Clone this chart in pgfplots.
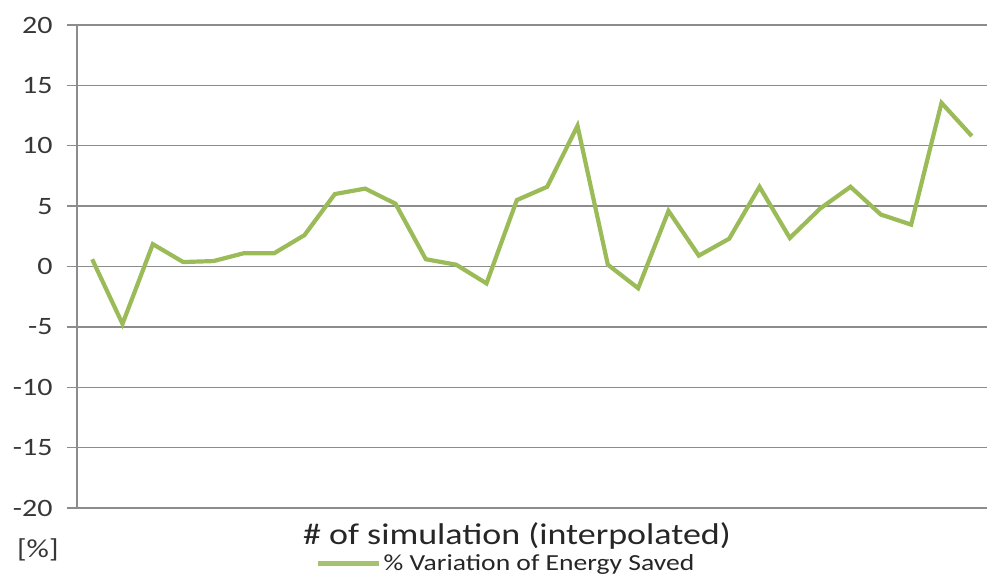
\documentclass[border=0pt]{standalone}
\usepackage{pgfplots}
\pgfplotsset{compat=1.18}
\usepackage{fontspec}
\setmainfont{Carlito}[FakeStretch=1.2]
\definecolor{linegreen}{RGB}{155,187,89}
\definecolor{legendgreen}{RGB}{165,194,110}
\definecolor{gridgray}{RGB}{140,140,140}
\definecolor{textgray}{RGB}{55,55,55}
\begin{document}
\begin{tikzpicture}
\path[use as bounding box] (0,0) rectangle (987bp,575bp);
\begin{axis}[
  at={(77bp,67bp)}, anchor=south west,
  scale only axis, width=910bp, height=483bp,
  xmin=0.5, xmax=30.5, ymin=-20, ymax=20,
  ytick={-20,-15,...,20},
  xtick=\empty,
  ymajorgrids, grid style={gridgray, line width=1.3bp},
  axis x line*=bottom, axis y line*=left,
  x axis line style={draw=none},
  y axis line style={gridgray, line width=1.8bp, -},
  major tick length=10bp,
  ytick style={gridgray, line width=1.3bp},
  tick align=outside,
  yticklabel style={font=\fontsize{25bp}{27bp}\selectfont, text=textgray, xshift=-11bp},
  /pgf/number format/assume math mode=true,
  xlabel={\# of simulation (interpolated)},
  xlabel style={font=\fontsize{30bp}{32bp}\selectfont, text=black!85, inner sep=0pt, at={(axis description cs:0.4835,-0.058)}, anchor=center},
  legend style={at={(axis description cs:0.262,-0.114)}, anchor=west, draw=none, fill=none,
    font=\fontsize{23bp}{25bp}\selectfont, text=black!85, inner sep=0pt},
  legend image code/.code={\draw[legendgreen, line width=5bp] (0bp,0bp) -- (61bp,0bp);},
  clip=false,
]
\addplot[linegreen, line width=4.2bp, line join=miter] coordinates {
(1,0.6) (2,-4.75) (3,1.85) (4,0.37) (5,0.45) (6,1.1) (7,1.1) (8,2.6) (9,6.0) (10,6.45)
(11,5.2) (12,0.6) (13,0.15) (14,-1.4) (15,5.5) (16,6.6) (17,11.65) (18,0.15) (19,-1.8) (20,4.6)
(21,0.9) (22,2.3) (23,6.6) (24,2.36) (25,4.8) (26,6.6) (27,4.3) (28,3.47) (29,13.55) (30,10.8)
};
\addlegendentry{\% Variation of Energy Saved}
\node[font=\fontsize{26bp}{28bp}\selectfont, text=textgray] at (axis description cs:-0.043,-0.087) {[\%]};
\end{axis}
\end{tikzpicture}
\end{document}
